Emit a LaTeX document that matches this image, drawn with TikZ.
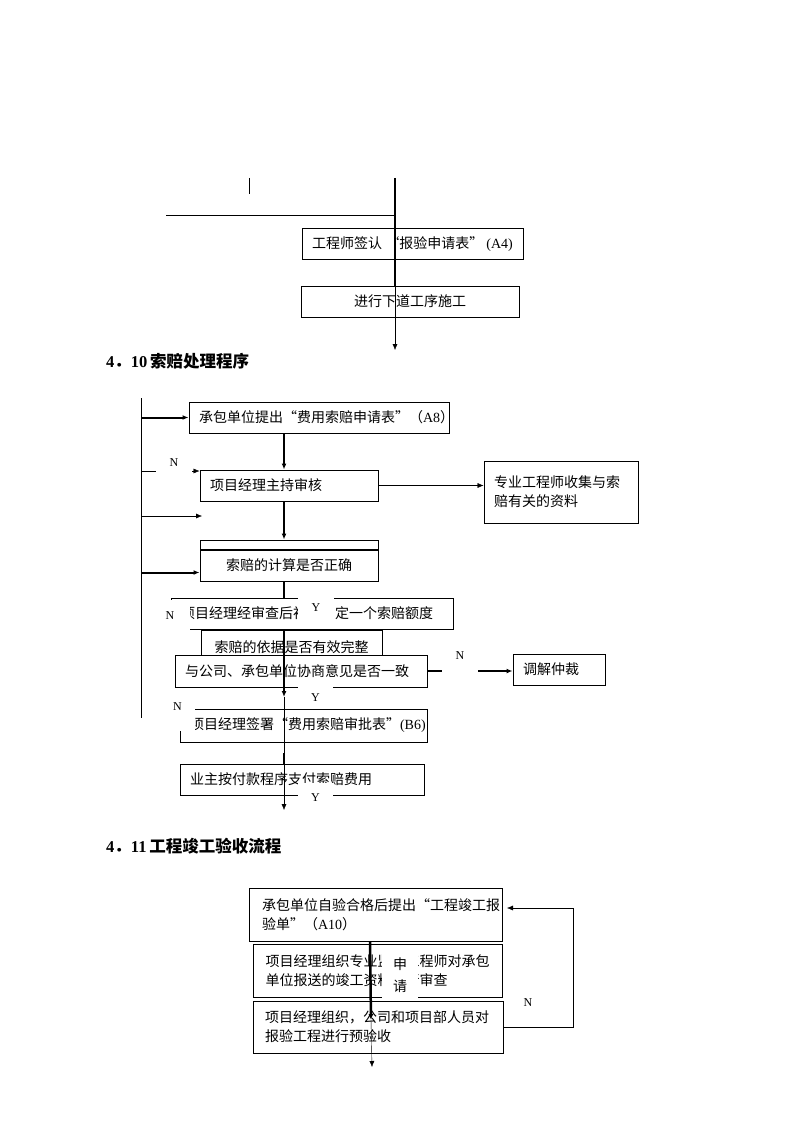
\documentclass[tikz,border=0pt]{standalone}
\usepackage{fontspec}
\setmainfont{Liberation Serif}
\newfontfamily\cjk{Noto Sans CJK SC}
\usetikzlibrary{arrows.meta,calc,positioning}

\begin{document}
\begin{tikzpicture}[x=1pt,y=-1pt,>={Latex[length=6pt,width=5pt]},
	box/.style={draw,line width=1pt,inner xsep=10pt,inner ysep=0pt,minimum height=31pt,font=\cjk\fontsize{14}{19}\selectfont},
	lab/.style={fill=white,inner sep=0pt,font=\fontsize{12}{12}\selectfont},
	head/.style={anchor=west,inner sep=0pt,font=\bfseries\fontsize{16.5}{16.5}\selectfont}]
			\useasboundingbox (0,0) rectangle (794,1123);
			% end of the inspection flow
			\node[box,minimum width=221pt] (sign) at (412.5,244) {工程师签认 “报验申请表” {\rmfamily (A4)}};
			\node[box,minimum width=218pt] (go) at (410,301.5) {进行下道工序施工};
			\coordinate (top) at (395,178);
			\coordinate (topend) at (395,350);
			\coordinate (hl) at (166,215);
			\coordinate (vs) at (249,178);
			\draw[line width=2pt] (top) -- (top |- go.north);
			\draw[->] (top |- go.north) -- (topend);
			\draw (hl) -- (top |- hl);
			\draw (vs) -- ++(0,16);
			\node[head] (h10) at (106,361) {4{\cjk ．}10\,{\cjk 索赔处理程序}};
			% 4.10
			\node[box,text width=240pt,align=left] (claim) at (319,417.5) {承包单位提出“费用索赔申请表”（{\rmfamily A8}）};
			\node[box,text width=158pt,align=left] (review) at (289,485.5) {项目经理主持审核};
			\node[box,text width=134pt,align=left,minimum height=62pt] (collect) at (561,492) {专业工程师收集与索\\赔有关的资料};
			\node[box,minimum width=178pt] (calc) at (289,565.5) {索赔的计算是否正确};
			\node[box,minimum width=178pt,minimum height=9pt,anchor=south] (calcbar) at (calc.north) {};
			\node[box,text width=262pt,align=left,fill=white] (offer) at (312,613.5) {项目经理经审查后初\hspace{28pt}定一个索赔额度};
			\node[box,minimum width=181pt,minimum height=34pt] (basis) at (291.5,647) {索赔的依据是否有效完整};
			\node[box,text width=232pt,align=left,minimum height=32pt,fill=white] (agree) at (301,671) {与公司、承包单位协商意见是否一致};
			\node[box,text width=72pt,align=left] (arb) at (559,669.5) {调解仲裁};
			\node[box,text width=227pt,align=left,minimum height=33pt] (sign2) at (303.5,725.5) {项目经理签署“费用索赔审批表”{\rmfamily (B6)}};
			\node[box,text width=224pt,align=left] (pay) at (302,779.5) {业主按付款程序支付索赔费用};
			\coordinate (busT) at (141,398);
			\coordinate (busB) at (141,718);
			\coordinate (ax) at (284,0);
			\coordinate (nA) at (175,471);
			\coordinate (inB) at (202,516);
			\coordinate (inD) at ($(calc.south west)+(0,-9)$);
			\coordinate (yarr) at (284,697);
			\coordinate (pend) at (284,810);
			\draw (busT) -- (busB);
			\draw[line width=2pt,->] (busT |- claim.west) -- (claim.west);
			\draw[->] (busT |- nA) -- (review.north west |- nA);
			\draw[->] (busT |- inB) -- (inB);
			\draw[line width=2pt,->] (busT |- inD) -- (inD);
			\draw[line width=2pt,->] (claim.south -| ax) -- (review.north -| ax);
			\draw[line width=2pt,->] (review.south -| ax) -- (calcbar.north -| ax);
			\draw[->] (review.east) -- (review.east -| collect.west);
			\draw[line width=2pt] (calc.south -| ax) -- (offer.north -| ax);
			\draw[line width=1.5pt,->] (offer.south -| ax) -- (yarr);
			\draw (yarr) -- (pay.north -| ax);
			\draw[line width=2.5pt] (sign2.south -| ax) ++(0,10) -- (pay.north -| ax);
			\draw[->] (pay.north -| ax) -- (pend);
			\draw[line width=2pt,->] (agree.east) -- (agree.east -| arb.west);
			\node[lab,text height=14pt,text depth=16pt,minimum width=36pt,anchor=north] (y1) at (316,597) {Y};
			\node[lab,text height=15pt,text depth=7pt,minimum width=35pt,anchor=north] (y2) at (315.5,686) {Y};
			\node[lab,text height=18pt,text depth=5pt,minimum width=35pt,anchor=north] (y3) at (315.5,783) {Y};
			\node[lab,text height=10pt,text depth=20pt,minimum width=36pt,anchor=north] (n1) at (174,456) {N};
			\node[lab,text height=19pt,text depth=15pt,minimum width=40pt,anchor=north] (n2) at (170,600) {N};
			\node[lab,text height=16pt,text depth=21pt,minimum width=36pt,anchor=north] (n3) at (460,643) {N};
			\node[lab,text height=16pt,text depth=21pt,minimum width=35pt,anchor=north] (n4) at (177.5,694) {N};
			% 4.11
			\node[head] (h11) at (106,846) {4{\cjk ．}11\,{\cjk 工程竣工验收流程}};
			\node[box,inner xsep=13pt,text width=227pt,align=left,minimum height=53pt] (accept) at (375.5,914.5) {承包单位自验合格后提出“工程竣工报\\验单”（{\rmfamily A10}）};
			\node[box,inner xsep=12.5pt,text width=224pt,align=left,minimum height=53pt] (check) at (377.5,970.5) {项目经理组织专业监理工程师对承包\\单位报送的竣工资料进行审查};
			\node[box,inner xsep=12pt,text width=226pt,align=left,minimum height=52pt] (pre) at (378,1027) {项目经理组织，公司和项目部人员对\\报验工程进行预验收};
			\node[lab,font=\cjk\fontsize{14}{22}\selectfont,align=center,minimum width=36pt,minimum height=52pt] (apply) at (400,975) {申\\请};
			\coordinate (ax4) at (370,0);
			\coordinate (k2) at (371,1020);
			\coordinate (kend) at (372,1067);
			\coordinate (loopend) at (507,908);
			\draw[line width=2.5pt,->] (accept.south -| ax4) -- (k2);
			\draw[->] (k2) -- (kend);
			\draw[->] (pre.east) -- ++(70,0) |- (loopend);
			\node[lab] (n5) at (528,1003) {N};
\end{tikzpicture}
\end{document}
